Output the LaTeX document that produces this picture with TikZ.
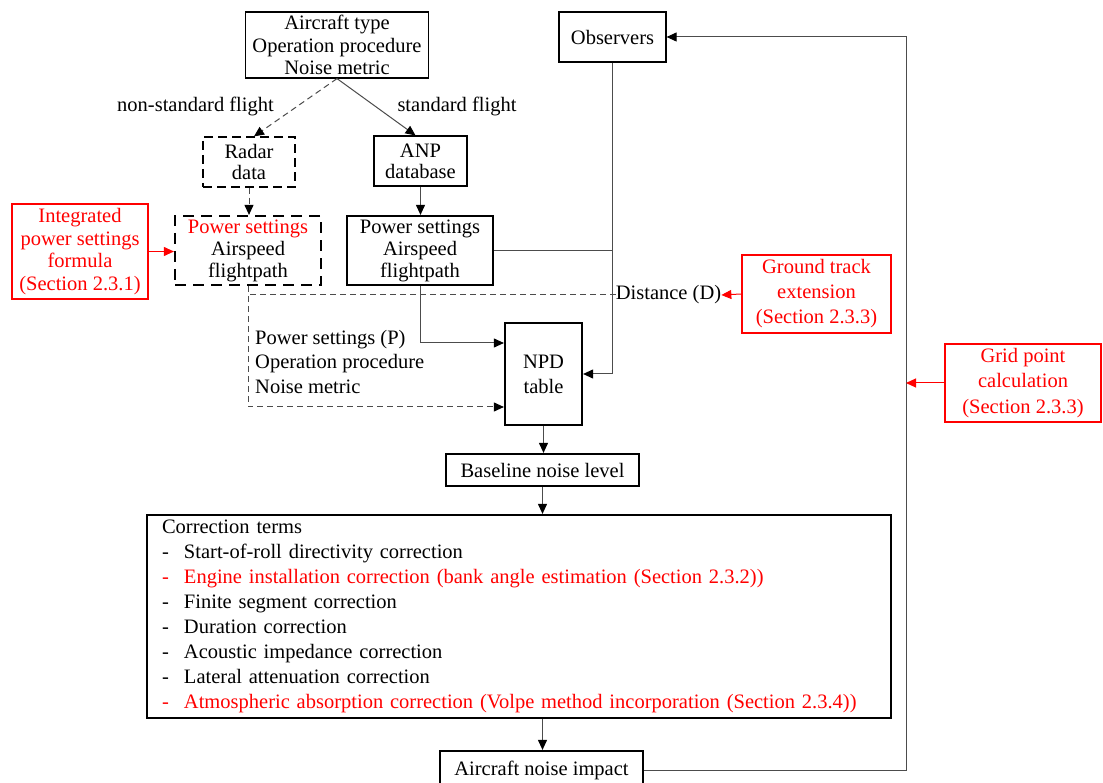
\documentclass[tikz,border=0pt]{standalone}
\usepackage{fontspec}
\setmainfont{Liberation Serif}
\usetikzlibrary{arrows.meta}
\newcommand\corritem[1]{\makebox[22pt][l]{-}#1}
\begin{document}
\begin{tikzpicture}[x=1pt,y=-1pt,
  bx/.style={draw=black, line width=1.2pt, align=center, inner sep=0pt, font=\fontsize{20.5}{22.5}\selectfont},
  tbx/.style={bx, line width=2.2pt},
  rbx/.style={bx, draw=red, text=red, line width=1.6pt},
  lbl/.style={inner sep=0pt, font=\fontsize{20.5}{24.5}\selectfont},
  tip/.style={-{Triangle[length=10pt,width=9pt,color=black]}},
  line/.style={draw=black!70, line width=1pt},
  dline/.style={line, dash pattern=on 6pt off 4pt},
  conn/.style={line, tip},
  dconn/.style={dline, tip},
  rconn/.style={draw=red, line width=1pt, -{Triangle[length=10pt,width=9pt]}}
]
\useasboundingbox (0,0) rectangle (1103,783);
\fill[white] (0,0) rectangle (1103,783);

\node[bx, minimum width=183pt, minimum height=66pt] (top) at (337,45) {Aircraft type\\Operation procedure\\Noise metric};
\node[lbl] (nsf) at (195.5,106) {non-standard flight};
\node[lbl] (sf) at (457,106) {standard flight};
\node[bx, dashed, dash pattern=on 9pt off 5pt, minimum width=92pt, minimum height=50pt, font=\fontsize{20.5}{21}\selectfont] (radar) at (249,162) {Radar\\data};
\node[bx, minimum width=93pt, minimum height=50pt, font=\fontsize{20.5}{21}\selectfont] (anp) at (420.5,161) {ANP\\database};
\node[tbx, dash pattern=on 11pt off 7pt, minimum width=146pt, minimum height=69pt, font=\fontsize{20.5}{22}\selectfont] (ps1) at (248,250.5) {\textcolor{red}{Power settings}\\Airspeed\\flightpath};
\node[tbx, minimum width=146pt, minimum height=69pt, font=\fontsize{20.5}{22}\selectfont] (ps2) at (420,250.5) {Power settings\\Airspeed\\flightpath};
\node[rbx, minimum width=136pt, minimum height=95pt] (integ) at (80,251.5) {Integrated\\power settings\\formula\\(Section 2.3.1)};
\node[bx, minimum width=107pt, minimum height=50pt] (obs) at (612.5,37) {Observers};
\node[tbx, minimum width=77pt, minimum height=102pt, font=\fontsize{20.5}{25}\selectfont] (npd) at (543.5,374) {NPD\\table};
\node[lbl] (dist) at (668.5,295) {Distance (D)};
\node[rbx, minimum width=149pt, minimum height=78pt, font=\fontsize{20.5}{25}\selectfont] (ground) at (816.5,294) {Ground track\\extension\\(Section 2.3.3)};
\node[rbx, minimum width=156pt, minimum height=78pt, font=\fontsize{20.5}{25.5}\selectfont] (grid) at (1023,383) {Grid point\\calculation\\(Section 2.3.3)};
\node[lbl, anchor=west, align=left] (pp) at (255,361.5) {Power settings (P)\\Operation procedure\\Noise metric};
\node[tbx, minimum width=193pt, minimum height=32pt] (base) at (542.5,470) {Baseline noise level};
\node[tbx, minimum width=744pt, minimum height=203pt, text width=714pt, inner xsep=15pt, align=left, font=\fontsize{20.5}{25.1}\selectfont] (corr) at (519,616.5) {Correction terms\\
\corritem{Start-of-roll directivity correction}\\
\textcolor{red}{\corritem{Engine installation correction (bank angle estimation (Section 2.3.2))}}\\
\corritem{Finite segment correction}\\
\corritem{Duration correction}\\
\corritem{Acoustic impedance correction}\\
\corritem{Lateral attenuation correction}\\
\textcolor{red}{\corritem{Atmospheric absorption correction (Volpe method incorporation (Section 2.3.4))}}};
\node[tbx, minimum width=203pt, minimum height=38pt] (impact) at (541.5,770) {Aircraft noise impact};
\coordinate (rx) at (906,400);

\draw[dconn] (top.south) -- ([xshift=5pt]radar.north);
\draw[conn] (top.south) -- ([xshift=-5pt]anp.north);
\draw[dconn] (radar.south) -- (radar.south |- ps1.north);
\draw[conn] (anp.south) -- (anp.south |- ps2.north);
\draw[rconn] (integ.east) -- (integ.east -| ps1.west);
\draw[line] (ps2.east) -- (ps2.east -| obs.south);
\draw[conn] (obs.south) |- (npd.east);
\draw[conn] (ps2.south) |- ([yshift=31pt]npd.west);
\draw[dconn] (ps1.south) |- ([yshift=-33pt]npd.west);
\draw[dline] (dist.west) -- (dist.west -| ps1.south);
\draw[rconn] (ground.west) -- (dist.east);
\draw[conn] (npd.south) -- (npd.south |- base.north);
\draw[conn] (base.south) -- (base.south |- corr.north);
\draw[conn] (base.south |- corr.south) -- (base.south |- impact.north);
\draw[conn] (impact.east) -| (rx) |- (obs.east);
\draw[rconn] (grid.west) -- (grid.west -| rx);
\end{tikzpicture}
\end{document}
